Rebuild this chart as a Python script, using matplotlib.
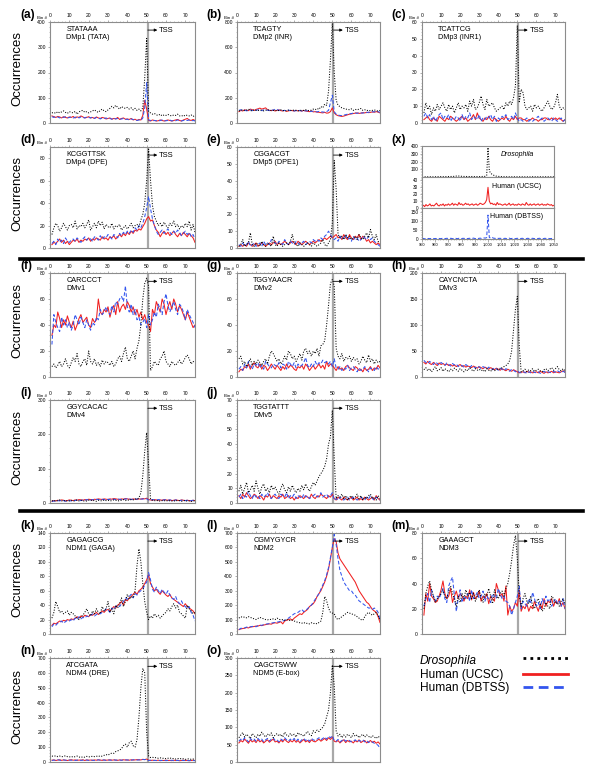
import numpy as np
import matplotlib
matplotlib.use('Agg')
import matplotlib.pyplot as plt
from matplotlib.ticker import MultipleLocator, AutoMinorLocator, FuncFormatter
from matplotlib.lines import Line2D

plt.rcParams['font.family'] = ['Liberation Sans', 'DejaVu Sans']

# ---------------- data ----------------
a_dro = [40,42,38,45,40,44,48,42,38,45, 42,40,46,35,44,48,50,42,45,40, 44,48,52,46,42,50,55,48,45,52, 58,66,60,70,62,55,65,60,58,62, 55,60,52,58,50,55,48,60,180,335, 45,40,35,38,32,30,35,28,32,30, 34,30,28,32,30,35,28,30,26,32, 30,28,32,26,30]
a_ucsc = [28,25,22,26,24,20,25,22,20,24, 22,26,20,24,22,28,24,20,22,25, 20,22,18,24,20,18,22,20,16,18, 20,15,18,16,22,14,18,20,15,16, 14,18,12,15,10,14,12,30,90,55, 10,8,12,10,8,9,12,10,8,10, 12,10,8,10,12,14,10,8,12,15, 18,12,10,14,10]
a_dbtss = [25,22,26,24,20,24,22,25,20,22, 24,20,22,26,20,24,22,20,24,22, 20,24,18,22,20,16,20,18,20,16, 18,15,20,16,18,15,16,18,14,15, 12,16,14,12,10,12,10,20,60,160, 12,10,8,10,9,8,10,12,8,9, 10,12,8,10,9,12,10,8,10,12, 10,12,8,10,8]

b_dro = [95,100,105,98,102,110,100,95,105,100, 98,104,100,96,102,100,105,98,100,102, 96,100,104,98,100,95,102,100,98,104, 100,96,102,98,100,105,100,98,102,110, 105,115,108,130,120,150,140,250,500,790, 400,180,140,130,120,115,110,108,105,112, 100,108,104,110,115,100,105,98,102,96, 100,104,98,95,100]
b_ucsc = [90,100,95,105,100,98,110,105,100,108, 112,118,110,115,120,105,100,98,102,95, 100,104,98,95,100,92,96,100,98,95, 100,96,98,94,100,95,92,90,95,88, 90,86,85,82,80,85,78,80,90,120, 80,65,58,55,52,55,60,65,70,72, 75,78,80,76,78,82,80,85,82,84, 88,85,90,86,80]
b_dbtss = [100,105,98,102,96,100,104,98,102,100, 105,100,98,104,100,102,98,105,100,110, 106,100,104,98,100,96,102,98,100,95, 98,96,100,94,92,98,95,90,92,94, 90,88,92,86,88,84,90,100,160,220, 90,70,62,60,58,62,66,70,72,75, 78,80,76,82,80,78,84,82,86,84, 88,90,86,90,85]

c_dro = [6,12,8,10,5,9,7,11,8,10, 12,9,7,11,8,10,6,9,12,8, 10,9,11,7,13,10,14,8,9,12, 16,11,8,14,10,11,12,9,7,8, 9,10,8,12,10,13,11,15,22,58, 12,20,18,10,8,9,10,7,11,9, 10,8,7,9,11,13,10,8,9,12, 17,10,8,9,8]
c_ucsc = [2,3,4,2,1,3,2,1,4,3, 2,1,3,2,4,3,2,1,2,3, 4,2,3,1,2,3,5,2,6,3, 2,1,3,2,4,2,1,3,2,1, 2,3,2,4,2,1,3,2,4,2, 3,3,2,2,1,2,2,3,2,2, 1,2,2,3,3,2,2,3,2,3, 2,3,2,1,2]
c_dbtss = [4,6,3,5,2,4,1,3,5,6, 2,4,3,5,1,3,2,4,3,1, 5,2,4,3,6,2,4,3,2,5, 1,3,2,4,3,5,2,4,1,3, 2,4,3,5,2,3,4,2,6,3, 1,2,1,2,3,1,2,1,2,3, 4,2,3,1,2,3,2,1,3,2, 1,2,3,1,2]

d_dro = [12,18,22,20,15,18,22,19,16,20, 21,18,24,17,20,19,22,18,21,25, 16,19,22,18,24,20,23,17,21,19, 18,22,17,20,19,21,16,18,20,17, 19,22,18,20,21,19,25,30,40,60, 88,60,38,28,24,20,22,19,23,20, 18,22,20,24,19,21,17,20,18,22, 19,24,16,21,14]
d_ucsc = [3,5,4,6,8,5,7,4,6,3, 5,7,6,8,5,7,6,8,7,9, 6,8,7,9,8,7,10,8,9,7, 10,9,11,8,10,12,10,13,11,14, 12,15,13,16,15,17,16,19,22,26, 28,24,25,20,16,14,10,13,15,12, 14,11,13,15,12,10,13,11,14,12, 10,13,11,9,5]
d_dbtss = [4,6,3,8,5,7,4,9,6,5, 7,8,6,9,7,5,8,10,7,9, 8,6,10,9,7,11,8,10,9,12, 10,8,12,11,9,13,11,14,12,15, 13,16,14,18,16,20,18,22,28,36, 46,35,26,20,15,12,14,16,13,15, 17,14,12,15,13,16,14,11,13,15, 12,14,10,12,8]

e_dro = [1,2,5,1,2,3,9,2,1,3, 2,1,4,2,1,3,2,1,7,2, 1,3,2,1,2,3,2,4,8,3, 2,1,3,2,1,2,3,2,1,3, 2,1,2,3,5,2,1,3,5,15, 52,35,8,6,7,5,8,6,7,5, 6,7,5,8,6,5,7,9,6,11, 7,5,8,4,3]
e_ucsc = [1,2,1,2,1,3,2,1,2,3, 1,2,3,2,1,2,3,2,3,4, 2,3,2,3,4,3,2,3,4,3, 2,4,3,2,3,4,3,2,3,4, 3,4,5,4,5,6,5,6,7,6, 7,8,6,7,5,8,6,5,8,6, 5,7,6,8,5,7,6,4,5,3, 4,3,2,3,2]
e_dbtss = [2,1,3,1,2,4,1,2,3,1, 2,3,1,4,2,3,2,5,4,3, 2,4,3,2,5,3,2,4,3,2, 4,3,2,3,4,2,3,4,3,5, 4,5,4,6,5,7,8,10,8,6, 5,6,4,7,5,6,8,5,6,4, 7,5,6,4,5,7,6,5,7,5, 6,4,3,2,1]

f_dro = [8,10,7,9,12,8,10,14,9,7, 11,15,12,18,10,8,12,14,9,20, 12,10,14,9,11,8,13,10,12,11, 9,12,8,10,14,16,12,18,23,14, 12,16,20,14,22,28,40,60,72,76, 70,5,8,12,10,9,14,16,20,12, 10,8,12,10,9,11,13,10,12,15, 17,14,10,12,11]
f_ucsc = [32,40,38,50,45,38,44,40,47,42, 38,43,36,40,45,48,42,44,46,40, 38,45,42,44,60,50,48,52,50,54, 46,52,55,48,58,50,54,56,52,58, 55,50,54,48,52,46,50,44,48,42, 40,35,52,48,58,54,50,60,56,48, 54,58,52,60,56,50,55,52,48,44, 50,46,42,38,40]
f_dbtss = [25,48,42,38,35,46,40,44,38,42, 36,40,48,44,40,46,42,38,44,40, 36,42,40,46,44,52,48,50,54,50, 48,55,50,58,56,60,62,58,70,54, 50,56,48,52,44,46,40,42,45,38, 48,40,44,50,46,56,52,48,58,64, 55,50,54,58,52,48,56,54,50,44, 52,48,45,42,38]

g_dro = [14,16,10,12,8,11,14,9,12,10, 13,11,9,12,14,10,16,20,18,15, 12,14,10,12,16,13,20,18,14,16, 12,15,18,13,20,22,18,20,16,20, 18,22,16,24,25,28,40,55,72,75, 70,22,16,14,18,12,15,14,16,12, 15,13,14,10,12,16,13,11,17,12, 14,10,13,11,12]
g_ucsc = [4,6,5,8,7,10,6,9,11,8, 7,10,6,9,8,5,7,10,8,6, 9,7,5,8,6,10,7,9,8,6, 5,8,7,9,6,10,8,5,7,9, 6,8,10,7,9,6,12,8,10,9, 7,5,8,6,7,5,8,9,7,6, 5,8,7,5,6,4,7,5,6,8, 5,7,6,9,7]
g_dbtss = [6,8,5,10,7,12,8,6,10,9, 11,7,9,6,12,10,8,7,10,9, 8,11,7,10,9,6,12,10,8,11, 7,10,8,9,11,15,9,7,10,8, 12,9,11,10,13,11,12,10,12,8, 14,7,6,8,5,7,6,9,5,7, 8,6,4,7,5,6,8,6,4,7, 6,5,8,6,7]

h_dro = [14,18,12,16,10,15,20,12,14,18, 11,16,13,10,15,12,17,14,11,16, 13,10,15,12,18,14,11,16,13,15, 12,14,10,16,13,11,15,12,14,16, 15,18,20,22,25,32,50,90,130,155, 60,10,12,15,10,14,12,16,11,13, 15,12,10,14,16,12,15,18,13,16, 20,14,12,16,12]
h_ucsc = [28,25,30,26,24,28,25,22,27,24, 26,23,25,22,24,21,23,20,22,24, 20,22,19,21,20,18,21,19,17,20, 18,16,19,17,15,18,16,14,17,15, 13,16,14,12,15,13,11,14,12,10, 8,9,10,8,11,9,10,8,9,10, 8,11,9,7,10,8,9,11,8,10, 9,8,10,12,9]
h_dbtss = [32,28,26,30,27,24,29,26,23,28, 25,22,27,24,21,26,23,25,20,23, 22,19,24,21,18,22,20,17,21,19, 16,20,18,15,19,17,14,18,16,13, 17,15,12,16,14,11,15,13,10,12, 9,8,10,9,7,10,8,11,9,8, 10,7,9,11,8,10,9,8,11,9, 12,10,8,11,9]

i_dro = [6,8,5,7,9,6,8,5,7,6, 8,5,7,9,6,8,7,5,6,8, 7,9,6,5,8,7,6,9,7,8, 6,7,9,8,6,7,8,10,7,9, 8,10,9,12,11,15,30,80,150,205, 110,12,8,7,6,8,5,7,6,8, 5,7,6,5,8,6,7,5,6,8, 5,6,4,7,5]
i_ucsc = [5,7,6,8,7,9,8,6,7,9, 8,7,9,8,10,9,8,10,9,11, 10,9,11,10,12,11,10,12,11,10, 12,11,13,12,11,10,12,11,13,12, 11,10,12,11,10,12,11,13,12,14, 10,9,8,10,9,8,9,8,10,9, 8,9,7,8,9,8,7,9,8,7, 8,7,6,8,7]
i_dbtss = [4,6,5,7,6,8,7,5,8,7, 6,8,7,9,8,7,9,8,10,9, 8,10,9,11,10,9,11,10,9,11, 10,12,11,10,12,11,10,12,11,13, 12,11,10,12,11,13,12,11,14,12, 9,8,10,9,8,10,9,8,9,10, 8,9,8,7,9,8,7,8,9,7, 8,6,7,8,6]

j_dro = [8,12,6,10,14,7,9,12,8,15, 10,6,11,13,8,10,7,12,9,11, 8,6,10,13,9,7,11,8,12,9, 7,10,8,12,9,13,10,8,11,14, 12,15,18,20,22,25,30,40,45,63, 30,3,5,4,6,3,5,2,4,5, 3,4,6,3,5,2,4,3,5,6, 3,4,2,5,3]
j_ucsc = [5,3,6,4,7,5,3,4,6,5, 3,5,4,2,5,4,6,3,5,4, 3,5,4,6,3,4,5,3,4,2, 4,3,5,4,3,5,4,3,6,4, 3,5,4,6,5,4,3,5,4,6, 3,2,4,3,2,4,3,2,3,4, 2,3,4,2,3,2,4,3,2,3, 4,2,5,3,2]
j_dbtss = [4,6,3,5,4,8,5,3,6,4, 5,3,6,4,5,7,4,3,5,6, 4,3,6,5,4,7,3,5,4,6, 3,5,4,3,6,4,5,3,4,5, 6,4,5,7,4,5,6,4,5,7, 2,3,2,4,3,2,3,4,2,3, 4,3,2,3,4,3,2,4,3,5, 3,2,4,3,2]

k_dro = [22,30,45,38,30,32,28,30,32,26, 30,28,25,22,20,24,26,30,35,28, 25,32,28,35,30,28,38,32,35,45, 30,35,28,40,36,42,50,38,45,55, 48,52,50,60,95,118,100,70,45,30, 20,25,22,28,24,26,22,25,28,30, 35,32,38,42,36,40,30,28,25,22, 40,35,32,28,30]
k_ucsc = [12,15,14,16,18,17,19,18,20,19, 21,20,22,24,22,25,23,26,25,24, 27,26,28,30,27,29,32,30,33,34, 32,35,38,36,40,42,45,40,48,46, 50,52,55,58,55,60,62,65,70,75, 82,70,65,60,62,58,55,60,57,54, 52,55,50,48,46,44,42,40,38,42, 38,36,34,32,28]
k_dbtss = [10,14,12,15,16,18,15,17,19,18, 20,18,22,20,24,21,23,22,25,24, 26,28,25,27,29,28,30,32,35,33, 30,36,34,38,40,38,42,45,50,48, 52,55,50,56,54,58,60,62,68,72, 85,75,62,58,65,60,56,62,58,55, 60,54,50,48,52,45,42,46,40,38, 35,38,30,26,18]

l_dro = [110,120,115,118,112,120,115,110,105,100, 108,115,110,105,100,98,102,100,105,100, 110,102,98,100,95,100,98,92,96,90, 85,80,78,75,80,72,75,70,78,72, 75,70,80,90,150,260,230,180,150,145, 140,110,100,110,120,130,140,150,145,140, 135,130,120,110,100,95,120,140,150,140, 130,140,150,130,100]
l_ucsc = [30,35,38,40,45,42,48,50,52,55, 55,60,58,62,65,68,70,68,75,78, 75,80,85,70,90,95,100,105,95,110, 120,130,140,135,150,160,170,190,200,210, 230,260,280,300,330,360,400,450,520,600, 660,640,560,520,500,480,460,440,420,400, 380,360,330,300,280,260,240,220,210,190, 170,160,150,120,80]
l_dbtss = [30,40,38,42,48,45,50,52,55,50, 58,62,60,65,68,70,72,75,78,80, 82,85,88,90,95,100,110,120,130,140, 145,150,160,170,155,165,175,190,200,220, 240,260,280,310,340,370,410,460,530,600, 690,620,520,440,400,360,340,320,300,300, 280,270,250,230,220,210,200,190,180,180, 170,180,170,150,100]

m_dro = [20,32,38,42,35,30,25,28,30,32, 35,30,28,34,38,32,28,22,30,25, 32,28,35,30,33,28,32,26,30,35, 28,25,32,30,36,30,24,35,30,28, 32,34,30,36,40,48,58,70,78,60, 30,22,28,32,26,24,30,22,20,26, 28,24,18,20,25,22,20,30,28,24, 25,22,26,28,24]
m_ucsc = [15,32,26,40,30,28,25,26,30,35, 42,32,28,30,36,25,30,34,28,32, 30,26,30,28,35,27,33,28,30,34, 26,30,28,32,24,30,28,26,40,35, 30,32,26,38,15,22,18,20,25,22, 35,18,22,20,24,18,22,20,26,22, 18,24,20,28,22,26,25,28,22,26, 24,28,22,25,20]
m_dbtss = [22,28,32,25,35,30,26,30,28,32, 36,28,25,38,42,45,30,18,28,35, 25,30,28,32,26,35,28,30,33,28, 30,34,26,30,28,25,32,30,28,36, 32,28,30,26,25,22,15,20,25,30, 38,20,26,24,22,28,24,33,28,22, 25,20,28,24,30,26,28,22,25,28, 24,26,22,28,20]

n_dro = [40,38,42,36,40,35,38,42,36,34, 38,32,36,40,34,30,36,32,38,35, 34,40,36,38,42,36,40,45,50,46, 55,60,58,70,75,80,90,110,120,100, 130,140,110,100,150,300,500,630,600,200, 40,30,32,28,30,25,28,24,26,22, 25,28,22,24,20,22,25,20,22,18, 20,22,18,20,18]
n_ucsc = [12,14,10,13,15,11,14,12,10,13, 15,12,14,11,13,12,15,10,14,12, 13,11,14,12,15,13,11,14,12,13, 15,12,14,13,11,14,12,15,13,14, 12,15,13,14,16,15,14,18,16,20, 12,10,12,11,10,12,9,11,10,12, 10,11,9,12,10,11,9,10,12,10, 11,9,10,12,10]
n_dbtss = [10,13,11,15,12,10,14,12,11,13, 12,14,10,13,15,11,12,14,13,11, 14,12,10,13,14,12,15,13,11,14, 12,13,15,12,14,13,12,14,15,13, 14,12,15,16,13,14,15,17,16,18, 10,12,9,11,10,9,11,10,12,9, 11,10,12,9,10,11,9,12,10,11, 10,9,11,10,9]

o_dro = [70,78,85,72,80,75,68,82,76,70, 80,74,86,78,72,80,76,84,70,78, 82,75,80,72,86,78,74,82,76,80, 72,85,78,80,74,82,88,80,76,90, 85,92,88,95,100,110,130,150,200,280, 220,90,75,80,70,78,72,80,76,70, 82,74,78,70,76,80,72,78,74,70, 76,72,68,74,70]
o_ucsc = [55,62,58,66,60,54,64,58,62,56, 65,58,62,55,60,64,57,62,66,58, 60,55,63,58,66,60,56,62,58,64, 57,62,55,60,65,58,62,56,64,60, 58,62,66,60,64,68,62,70,65,72, 60,58,62,55,60,64,56,62,58,60, 55,62,58,64,56,60,62,55,58,62, 56,60,54,58,52]
o_dbtss = [60,66,62,70,64,58,68,62,66,60, 68,62,66,58,64,68,60,66,70,62, 64,58,66,62,70,64,60,66,62,68, 60,66,58,64,68,62,66,60,68,64, 62,66,70,64,68,72,66,74,70,76, 62,60,65,58,62,66,60,64,62,58, 60,64,58,62,60,64,58,62,56,60, 58,54,52,48,40]

# panel (x): positions 950..1050
x_dro = [2,3,2,4,3,2,3,4,2,3, 3,2,4,3,5,3,4,3,5,4, 6,5,7,6,8,10,12,15,12,10, 9,8,7,8,6,7,6,5,7,6, 5,6,5,4,6,5,8,6,10,20, 380, 80,50,35,25,18,12,10,8,6,5, 5,4,5,3,4,3,4,3,2,3, 4,3,2,3,2,3,4,2,3,2, 3,2,3,4,2,3,2,3,2,3, 2,3,2,3,2,4,3,2,3,2]
x_ucsc = [3,4,2,5,3,4,6,3,4,3, 5,7,4,3,5,4,6,3,5,4, 6,4,5,7,4,6,5,4,8,5, 6,4,5,7,5,6,4,5,6,4, 5,6,4,5,7,6,5,6,8,12, 30, 10,6,7,5,6,4,8,5,6,5, 4,5,6,4,5,7,4,5,6,4, 5,4,6,5,4,6,5,4,8,5, 4,6,4,5,6,4,5,6,4,5, 6,4,5,4,6,5,4,5,3,4]
x_dbtss = [2,3,1,4,2,3,2,3,4,2, 3,2,4,3,2,3,5,2,3,4, 2,3,4,2,3,5,3,2,4,3, 2,4,3,5,2,3,4,2,3,5, 3,2,4,3,5,3,4,6,5,8, 135, 8,6,10,5,4,3,5,3,4,3, 2,3,4,2,3,5,2,3,4,3, 2,4,3,2,3,4,2,3,2,4, 3,2,3,4,2,3,2,3,4,2, 3,2,4,3,2,3,2,3,2,3]
x_start = 950

series_names = ['Drosophila', 'Human (UCSC)', 'Human (DBTSS)']

# ---------------- style ----------------
RED = '#f02020'
BLUE = '#3355ee'
SPINE = '#8c8c8c'
DOT = (0, (1, 1.5))
DASH = (0, (3.5, 2))
LW = 0.75
W, H = 600, 783

fig = plt.figure(figsize=(6, 7.83), dpi=100)


def rect(l, t, r, b):
    return [l / W, 1 - b / H, (r - l) / W, (b - t) / H]


def style_axes(ax):
    for s in ax.spines.values():
        s.set_color(SPINE)
        s.set_linewidth(0.8)


def binx(y):
    return np.arange(1, len(y) + 1)


def panel(label, motif, name, box, ymax, ystep, dro, ucsc, dbtss, labx):
    l, t, r, b = box
    ax = fig.add_axes(rect(l, t, r, b))
    style_axes(ax)
    ax.axvline(50.5, color='#a8a8a8', lw=1.6, zorder=0.5)
    ax.plot(binx(ucsc), ucsc, color=RED, lw=LW, zorder=2)
    ax.plot(binx(dbtss), dbtss, color=BLUE, lw=LW, ls=DASH, zorder=3)
    ax.plot(binx(dro), dro, color='black', lw=LW, ls=DOT, zorder=4)
    ax.set_xlim(0, 75)
    ax.set_ylim(0, ymax)
    ax.xaxis.tick_top()
    ax.set_xticks(np.arange(0, 71, 10))
    ax.xaxis.set_minor_locator(MultipleLocator(2))
    ax.yaxis.set_major_locator(MultipleLocator(ystep))
    ax.yaxis.set_minor_locator(AutoMinorLocator(5))
    ax.tick_params(axis='both', which='major', labelsize=3.6, length=1.8,
                   width=0.5, pad=1.2, color=SPINE)
    ax.tick_params(axis='both', which='minor', length=1.0, width=0.4, color=SPINE)
    ya = 0.92 * ymax
    ax.annotate('', xy=(55.5, ya), xytext=(50.6, ya),
                arrowprops=dict(arrowstyle='-|>', lw=0.6, color='black',
                                mutation_scale=4, shrinkA=0, shrinkB=0))
    ax.text(56.3, ya, 'TSS', fontsize=5.5, va='center', ha='left')
    ax.text(8.5, 0.965 * ymax, motif + '\n' + name, fontsize=5.2, va='top',
            ha='left', linespacing=1.35)
    ax.annotate('Bin #', xy=(0, 1), xycoords='axes fraction', xytext=(-2.5, 1.6),
                textcoords='offset points', ha='right', va='bottom', fontsize=3.2)
    fig.text(labx / W, 1 - (t - 7) / H, label, fontsize=8.5, fontweight='bold',
             ha='left', va='center')
    return ax


C1, C2, C3 = (50, 195), (237, 380), (422, 565)
L1, L2, L3 = 20, 206, 391

rows = [
    ('(a)', 'STATAAA', 'DMp1 (TATA)', (C1, 22, 123), 400, 100, a_dro, a_ucsc, a_dbtss, L1),
    ('(b)', 'TCAGTY', 'DMp2 (INR)', (C2, 22, 123), 800, 200, b_dro, b_ucsc, b_dbtss, L2),
    ('(c)', 'TCATTCG', 'DMp3 (INR1)', (C3, 22, 123), 60, 10, c_dro, c_ucsc, c_dbtss, L3),
    ('(d)', 'KCGGTTSK', 'DMp4 (DPE)', (C1, 147, 248), 90, 20, d_dro, d_ucsc, d_dbtss, L1),
    ('(e)', 'CGGACGT', 'DMp5 (DPE1)', (C2, 147, 248), 60, 10, e_dro, e_ucsc, e_dbtss, L2),
    ('(f)', 'CARCCCT', 'DMv1', (C1, 273, 377), 80, 20, f_dro, f_ucsc, f_dbtss, L1),
    ('(g)', 'TGGYAACR', 'DMv2', (C2, 273, 377), 80, 20, g_dro, g_ucsc, g_dbtss, L2),
    ('(h)', 'CAYCNCTA', 'DMv3', (C3, 273, 377), 200, 50, h_dro, h_ucsc, h_dbtss, L3),
    ('(i)', 'GGYCACAC', 'DMv4', (C1, 400, 503), 300, 100, i_dro, i_ucsc, i_dbtss, L1),
    ('(j)', 'TGGTATTT', 'DMv5', (C2, 400, 503), 70, 10, j_dro, j_ucsc, j_dbtss, L2),
    ('(k)', 'GAGAGCG', 'NDM1 (GAGA)', (C1, 533, 634), 140, 20, k_dro, k_ucsc, k_dbtss, L1),
    ('(l)', 'CGMYGYCR', 'NDM2', (C2, 533, 634), 700, 100, l_dro, l_ucsc, l_dbtss, L2),
    ('(m)', 'GAAAGCT', 'NDM3', (C3, 533, 634), 80, 20, m_dro, m_ucsc, m_dbtss, L3),
    ('(n)', 'ATCGATA', 'NDM4 (DRE)', (C1, 658, 762), 700, 100, n_dro, n_ucsc, n_dbtss, L1),
    ('(o)', 'CAGCTSWW', 'NDM5 (E-box)', (C2, 658, 762), 300, 50, o_dro, o_ucsc, o_dbtss, L2),
]

for lab, motif, name, (cols, t, b), ymax, ystep, dro, uc, db, lx in rows:
    panel(lab, motif, name, (cols[0], t, cols[1], b), ymax, ystep, dro, uc, db, lx)

# Occurrences labels
for t, b in [(22, 123), (147, 248), (273, 377), (400, 503), (533, 634), (658, 762)]:
    fig.text(17 / W, 1 - ((t + b) / 2 - 4) / H, 'Occurrences', rotation=90,
             fontsize=9.5, ha='center', va='center')

# ---------------- panel (x) ----------------
xl, xr = 422, 554
sub = [(146, 177, x_dro, 'black', DOT, 400, 100, series_names[0], True, 0.74),
       (177, 208, x_ucsc, RED, '-', 45, 10, series_names[1], False, 0.68),
       (208, 239, x_dbtss, BLUE, DASH, 175, 50, series_names[2], False, 0.71)]
for k, (t, b, ys, col, ls, ymax, ystep, nm, ital, ty) in enumerate(sub):
    ax = fig.add_axes(rect(xl, t, xr, b))
    style_axes(ax)
    ax.plot(np.arange(x_start, x_start + len(ys)), ys, color=col, ls=ls, lw=LW)
    ax.set_xlim(950, 1050)
    ax.set_ylim(0, ymax)
    ax.set_xticks(np.arange(950, 1051, 10))
    ax.xaxis.set_minor_locator(MultipleLocator(2))
    ax.yaxis.set_major_locator(MultipleLocator(ystep))
    ax.yaxis.set_minor_locator(AutoMinorLocator(5))
    ax.tick_params(axis='both', which='major', labelsize=3.4, length=1.8,
                   width=0.5, pad=1.0, color=SPINE)
    ax.tick_params(axis='x', which='major', labelsize=2.9)
    ax.tick_params(axis='both', which='minor', length=1.0, width=0.4, color=SPINE)
    if k < 2:
        ax.tick_params(axis='x', labelbottom=False)
    else:
        ax.xaxis.set_major_formatter(FuncFormatter(lambda v, p: f'{int(v):,}'))
    if k == 0:
        ax.set_yticks([100, 200, 300, 400])
    ax.text(1022, ty * ymax, nm, fontsize=5, ha='center', va='center',
            style='italic' if ital else 'normal')
fig.text(L3 / W, 1 - 140 / H, '(x)', fontsize=8.5, fontweight='bold', ha='left', va='center')

# ---------------- separators ----------------
for yy in (259, 511):
    fig.add_artist(Line2D([20 / W, 583 / W], [1 - yy / H] * 2, lw=2.6, color='black'))

# ---------------- legend ----------------
leg = [(series_names[0], 'black', DOT, True, 661),
       (series_names[1], RED, '-', False, 675),
       (series_names[2], BLUE, DASH, False, 688)]
for nm, col, ls, ital, yy in leg:
    fig.text(420 / W, 1 - yy / H, nm, fontsize=8.6, ha='left', va='center',
             style='italic' if ital else 'normal')
    ly = yy - 3 if ital else yy - 1
    fig.add_artist(Line2D([523 / W, 568 / W], [1 - ly / H] * 2, lw=2.0,
                          color=col, ls=ls))

fig.savefig('out.png', dpi=100)
